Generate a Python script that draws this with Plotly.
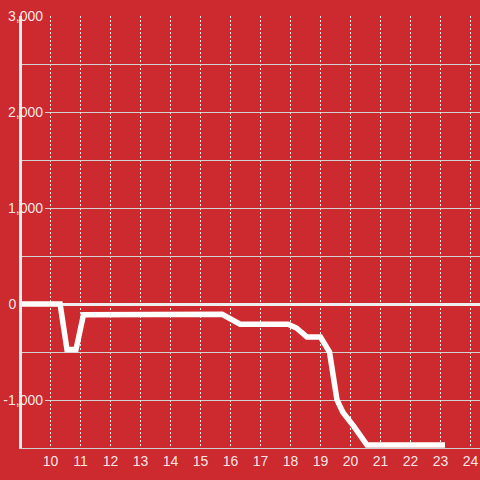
import plotly.graph_objects as go

# ---- data ----
hours = [9.0, 10.32, 10.55, 10.85, 11.1, 15.72, 16.32, 17.92, 18.2, 18.55,
         19.0, 19.3, 19.55, 19.75, 20.1, 20.35, 20.55, 23.15]
values = [0, 0, -475, -475, -112, -108, -210, -210, -250, -345,
          -345, -500, -1000, -1130, -1270, -1370, -1470, -1470]

major_ticks = [-1000, 1000, 2000, 3000]
major_labels = ["-1,000", "1,000", "2,000", "3,000"]
minor_ticks = [-500, 0, 500, 1500, 2500]
minor_labels = ["", "0", "", "", ""]
x_ticks = list(range(10, 25))
x_labels = [str(v) for v in x_ticks]

BG = "#cc2a2f"
FONT = dict(family="Liberation Sans, Arial, sans-serif", size=14,
            color="rgba(255,255,255,0.9)")

fig = go.Figure()
# empty trace keeps the labelled-grid subplot (drawn underneath) alive
fig.add_trace(go.Scatter(x=[], y=[], xaxis="x", yaxis="y", showlegend=False))
fig.add_trace(go.Scatter(x=hours, y=values, xaxis="x2", yaxis="y2",
                         mode="lines", line=dict(color="white", width=5.5),
                         showlegend=False, hoverinfo="skip"))

Y_RANGE = [-1500, 3000]
fig.update_layout(
    width=480, height=480,
    margin=dict(l=22, r=0, t=16, b=32, autoexpand=False),
    paper_bgcolor=BG, plot_bgcolor="rgba(0,0,0,0)",
    font=FONT,
    xaxis=dict(domain=[23 / 458, 1], range=[0, 1], visible=False, anchor="y",
               automargin=False),
    yaxis=dict(domain=[0, 1], range=Y_RANGE, anchor="x",
               tickvals=major_ticks, ticktext=major_labels,
               showgrid=True, gridcolor="#d2d2d2", gridwidth=1,
               zeroline=False, showline=False, ticks="",
               tickfont=FONT, ticklabelstandoff=1, automargin=False),
    xaxis2=dict(domain=[0, 1], range=[9.05, 24.317], anchor="y2",
                tickvals=x_ticks, ticktext=x_labels,
                showgrid=True, gridcolor="#e8e8e8", gridwidth=1, griddash="2px,2px",
                zeroline=False, showline=True, linecolor="#cfcfcf", linewidth=1,
                ticks="", tickfont=FONT, automargin=False),
    yaxis2=dict(domain=[0, 1], range=Y_RANGE, anchor="x2",
                tickvals=minor_ticks, ticktext=minor_labels,
                showgrid=True, gridcolor="#d2d2d2", gridwidth=1,
                zeroline=True, zerolinecolor="#eeeeee", zerolinewidth=3,
                showline=True, linecolor="#eeeeee", linewidth=3,
                ticks="", tickfont=FONT, automargin=False),
)

fig.write_html("out.html", config={"displayModeBar": False},
               post_script="document.body.style.margin='0px';"
                           "document.body.style.background='%s';" % BG)
